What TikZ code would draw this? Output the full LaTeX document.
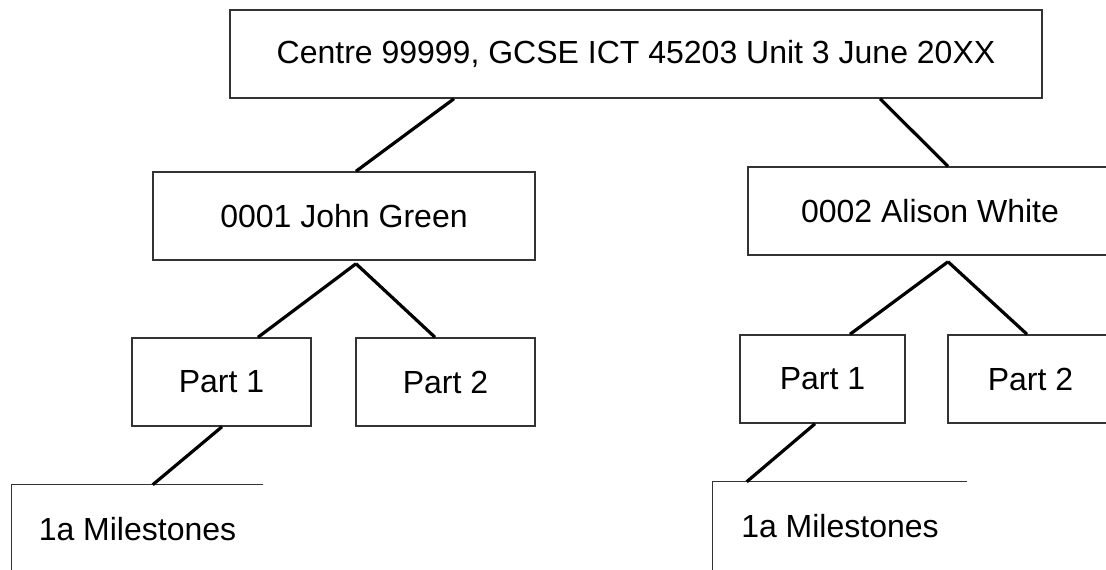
\documentclass[tikz,border=0pt]{standalone}
\usepackage{fontspec}
\setmainfont{Liberation Sans}
\usetikzlibrary{calc}
\begin{document}
\begin{tikzpicture}[x=0.75pt,y=-0.75pt,
  every node/.style={font=\fontsize{24pt}{28pt}\selectfont},
  box/.style={draw=black!80, line width=1.1pt, rectangle, inner sep=0pt,
    minimum height=66pt},
  openbox/.style={rectangle, inner sep=0pt, minimum height=66pt},
  edgeline/.style={draw=black!80, line width=1.1pt},
  link/.style={line width=2.4pt, line cap=butt}]
  \useasboundingbox (0,0) rectangle (1106,569);
  \clip (0,0) rectangle (1106,569);

  % tree of boxes
  \node[box, minimum width=609pt]    (top)    at (636,54)    {Centre 99999, GCSE ICT 45203 Unit 3 June 20XX};
  \node[box, minimum width=286.5pt]  (john)   at (344,216)   {0001 John Green};
  \node[box, minimum width=273pt]    (alison) at (930,211)   {0002 Alison White};
  \node[box, minimum width=134.25pt] (jp1)    at (221.5,382) {Part 1};
  \node[box, minimum width=134.25pt] (jp2)    at (445.5,382) {Part 2};
  \node[box, minimum width=123.75pt] (ap1)    at (822.5,379) {Part 1};
  \node[box, minimum width=123.75pt] (ap2)    at (1030.5,379) {Part 2};
  \node[openbox, minimum width=188.25pt] (jm) at (137.5,529) {1a Milestones};
  \node[openbox, minimum width=190.5pt]  (am) at (840,526)   {1a Milestones};

  % milestone boxes show only their left and top sides
  \draw[edgeline] (jm.south west) -- (jm.north west) -- (jm.north east);
  \draw[edgeline] (am.south west) -- (am.north west) -- (am.north east);

  % branch points just under the parent boxes
  \coordinate (jfork) at ($(john.south)+(12,3)$);
  \coordinate (afork) at ($(alison.south)+(18,6)$);

  % connectors
  \draw[link] ($(top.south)+(-182,0)$) -- ($(john.north)+(12,0)$);
  \draw[link] ($(top.south)+(244,0)$)  -- ($(alison.north)+(18,0)$);
  \draw[link] (jfork) -- ($(jp1.north)+(36.5,0)$);
  \draw[link] (jfork) -- ($(jp2.north)+(-10.5,0)$);
  \draw[link] (afork) -- ($(ap1.north)+(27.5,0)$);
  \draw[link] (afork) -- ($(ap2.north)+(-3.5,0)$);
  \draw[link] ($(jp1.south)+(0.5,0)$) -- ($(jm.north west)+(141,0)$);
  \draw[link] ($(ap1.south)+(-7.5,0)$) -- ($(am.north west)+(34,0)$);
\end{tikzpicture}
\end{document}
